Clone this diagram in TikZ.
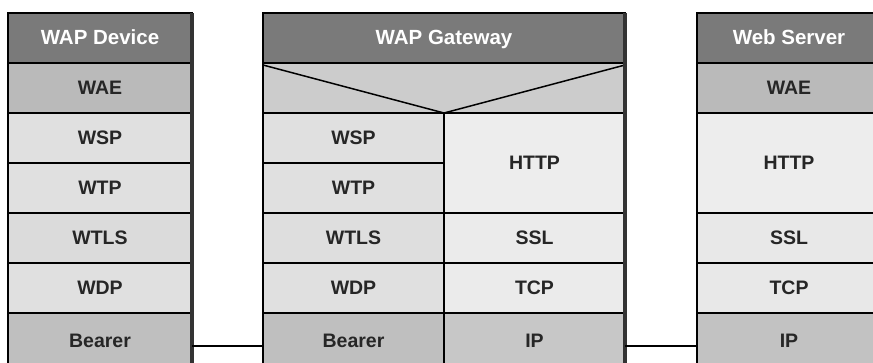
\documentclass[tikz,border=0pt]{standalone}
\usepackage{fontspec}
\setmainfont{Liberation Sans}
\begin{document}
\begin{tikzpicture}[x=1pt,y=-1pt,
    layer/.style={draw=black,line width=1.5pt,anchor=north west,inner sep=0pt,outer sep=0pt,
      minimum height=50pt,text height=14pt,text depth=1pt,
      font=\fontsize{19.5}{21}\selectfont\bfseries,text=black!85},
    head/.style={layer,fill=black!52,text=white,font=\fontsize{20.5}{22}\selectfont\bfseries},
    edge/.style={line width=3.5pt,black!80},
    link/.style={line width=1.6pt}]
  \useasboundingbox (0,0) rectangle (873,362);
  \clip (0,0) rectangle (873,362);
  % WAP device
  \node[head,minimum width=184pt] (dev-head) at (8,13) {WAP Device};
  \node[layer,minimum width=184pt,fill=black!27] (dev-wae) at (8,63) {WAE};
  \node[layer,minimum width=184pt,fill=black!12] (dev-wsp) at (8,113) {WSP};
  \node[layer,minimum width=184pt,fill=black!12] (dev-wtp) at (8,163) {WTP};
  \node[layer,minimum width=184pt,fill=black!14] (dev-wtls) at (8,213) {WTLS};
  \node[layer,minimum width=184pt,fill=black!12] (dev-wdp) at (8,263) {WDP};
  \node[layer,minimum width=184pt,minimum height=56pt,fill=black!25] (dev-bearer) at (8,313) {Bearer};
  \draw[edge] (dev-head.north east) -- (dev-bearer.south east);
  % WAP gateway
  \node[head,minimum width=362pt] (gw-head) at (263,13) {WAP Gateway};
  \node[layer,minimum width=362pt,fill=black!20] (gw-v) at (263,63) {};
  \node[layer,minimum width=181pt,fill=black!12] (gw-wsp) at (263,113) {WSP};
  \node[layer,minimum width=181pt,fill=black!12] (gw-wtp) at (263,163) {WTP};
  \node[layer,minimum width=181pt,fill=black!13] (gw-wtls) at (263,213) {WTLS};
  \node[layer,minimum width=181pt,fill=black!12] (gw-wdp) at (263,263) {WDP};
  \node[layer,minimum width=181pt,minimum height=56pt,fill=black!25] (gw-bearer) at (263,313) {Bearer};
  \node[layer,minimum width=181pt,minimum height=100pt,fill=black!7] (gw-http) at (444,113) {HTTP};
  \node[layer,minimum width=181pt,fill=black!8] (gw-ssl) at (444,213) {SSL};
  \node[layer,minimum width=181pt,fill=black!8] (gw-tcp) at (444,263) {TCP};
  \node[layer,minimum width=181pt,minimum height=56pt,fill=black!22] (gw-ip) at (444,313) {IP};
  \draw[line width=1.5pt] ([yshift=-2pt]gw-v.north west) -- (gw-wsp.north east) -- ([yshift=-2pt]gw-v.north east);
  \draw[edge] (gw-head.north east) -- (gw-ip.south east);
  % Web server
  \node[head,minimum width=184pt] (srv-head) at (697,13) {Web Server};
  \node[layer,minimum width=184pt,fill=black!27] (srv-wae) at (697,63) {WAE};
  \node[layer,minimum width=184pt,minimum height=100pt,fill=black!7] (srv-http) at (697,113) {HTTP};
  \node[layer,minimum width=184pt,fill=black!9] (srv-ssl) at (697,213) {SSL};
  \node[layer,minimum width=184pt,fill=black!9] (srv-tcp) at (697,263) {TCP};
  \node[layer,minimum width=184pt,minimum height=56pt,fill=black!24] (srv-ip) at (697,313) {IP};
  % links
  \draw[link] ([yshift=-5pt]dev-bearer.east) -- ([yshift=-5pt]gw-bearer.west);
  \draw[link] ([yshift=-5pt]gw-ip.east) -- ([yshift=-5pt]srv-ip.west);
\end{tikzpicture}
\end{document}
